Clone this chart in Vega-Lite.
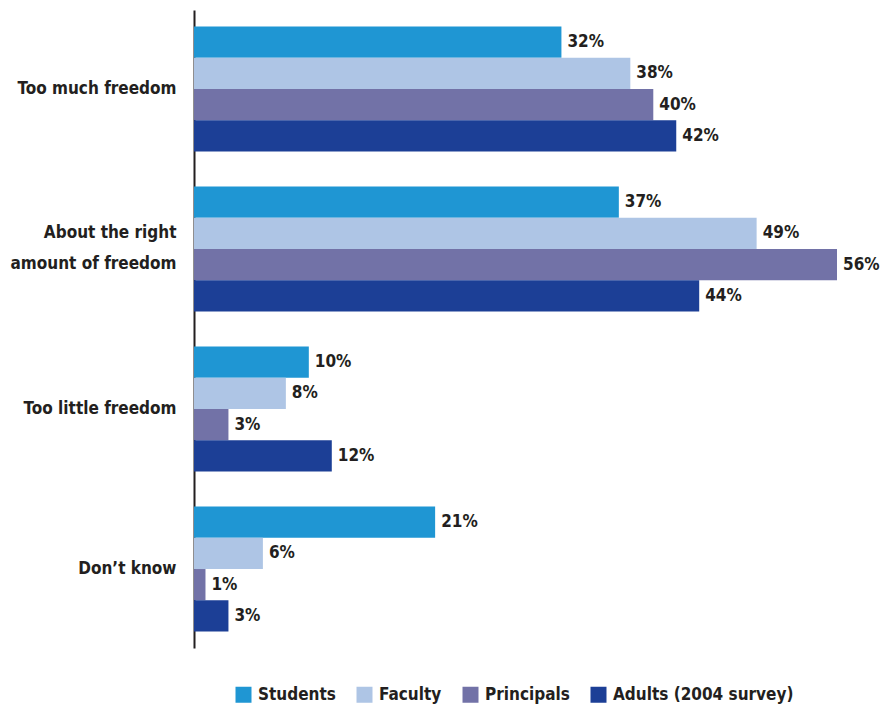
{
  "$schema": "https://vega.github.io/schema/vega-lite/v6.json",
  "width": 643,
  "height": 638,
  "autosize": "none",
  "padding": {"left": 194, "top": 10, "right": 44, "bottom": 59},
  "background": "white",
  "config": {"view": {"stroke": null}, "font": "DejaVu Sans Condensed"},
  "data": {"values": [
    {"response": "Too much freedom", "group": "Students", "pct": 32},
    {"response": "Too much freedom", "group": "Faculty", "pct": 38},
    {"response": "Too much freedom", "group": "Principals", "pct": 40},
    {"response": "Too much freedom", "group": "Adults (2004 survey)", "pct": 42},
    {"response": "About the right amount of freedom", "group": "Students", "pct": 37},
    {"response": "About the right amount of freedom", "group": "Faculty", "pct": 49},
    {"response": "About the right amount of freedom", "group": "Principals", "pct": 56},
    {"response": "About the right amount of freedom", "group": "Adults (2004 survey)", "pct": 44},
    {"response": "Too little freedom", "group": "Students", "pct": 10},
    {"response": "Too little freedom", "group": "Faculty", "pct": 8},
    {"response": "Too little freedom", "group": "Principals", "pct": 3},
    {"response": "Too little freedom", "group": "Adults (2004 survey)", "pct": 12},
    {"response": "Don’t know", "group": "Students", "pct": 21},
    {"response": "Don’t know", "group": "Faculty", "pct": 6},
    {"response": "Don’t know", "group": "Principals", "pct": 1},
    {"response": "Don’t know", "group": "Adults (2004 survey)", "pct": 3}
  ]},
  "encoding": {
    "y": {
      "field": "response", "type": "nominal",
      "sort": ["Too much freedom", "About the right amount of freedom", "Too little freedom", "Don’t know"],
      "scale": {"paddingInner": 0.219, "paddingOuter": 0.103},
      "axis": {
        "title": null, "ticks": false, "grid": false,
        "domainColor": "#231f20", "domainWidth": 2,
        "labelFont": "DejaVu Sans Condensed", "labelFontWeight": "bold", "labelFontSize": 17,
        "labelColor": "#231f20", "labelPadding": 18, "labelLineHeight": 31,
        "labelLimit": 300,
        "labelOffset": {"condition": {"test": "datum.value == 'About the right amount of freedom'", "value": -16}, "value": 0},
        "labelExpr": "datum.value == 'About the right amount of freedom' ? ['About the right', 'amount of freedom'] : datum.value"
      }
    },
    "yOffset": {
      "field": "group", "type": "nominal",
      "sort": ["Students", "Faculty", "Principals", "Adults (2004 survey)"],
      "scale": {"paddingInner": 0, "paddingOuter": 0}
    },
    "x": {
      "field": "pct", "type": "quantitative",
      "scale": {"domain": [0, 56], "nice": false},
      "axis": null
    }
  },
  "layer": [
    {
      "mark": {"type": "bar"},
      "encoding": {
        "color": {
          "field": "group", "type": "nominal",
          "scale": {
            "domain": ["Students", "Faculty", "Principals", "Adults (2004 survey)"],
            "range": ["#1f96d3", "#aec5e5", "#7272a7", "#1c3f96"]
          },
          "legend": {
            "title": null, "orient": "none", "direction": "horizontal",
            "legendX": 41, "legendY": 676,
            "symbolType": "square", "symbolSize": 256, "symbolStrokeWidth": 0,
            "labelFont": "DejaVu Sans Condensed", "labelFontWeight": "bold", "labelFontSize": 17,
            "labelColor": "#231f20", "columnPadding": 20, "labelOffset": 6, "labelLimit": 300
          }
        }
      }
    },
    {
      "mark": {
        "type": "text", "align": "left", "baseline": "middle", "dx": 6,
        "font": "DejaVu Sans Condensed", "fontWeight": "bold", "fontSize": 17, "color": "#231f20",
        "text": {"expr": "datum.pct + '%'"}
      }
    }
  ]
}
